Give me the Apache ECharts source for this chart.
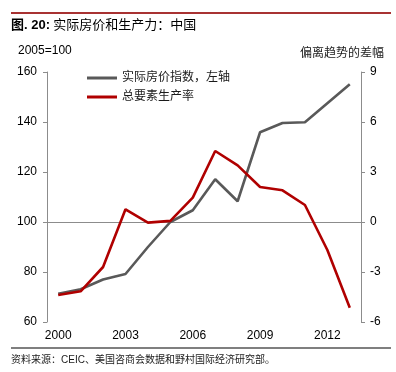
<!DOCTYPE html>
<html>
<head>
<meta charset="utf-8">
<script src="https://cdn.jsdelivr.net/npm/echarts@6/dist/echarts.min.js"></script>
<style>
html,body{margin:0;padding:0;background:#fff;}
#main{width:396px;height:372px;}
</style>
</head>
<body>
<div id="main"></div>
<script>
var years = ['2000','2001','2002','2003','2004','2005','2006','2007','2008','2009','2010','2011','2012','2013'];
var housePrice = [71.3, 73.1, 77.0, 79.2, 90.0, 100.0, 104.7, 117.1, 108.3, 135.9, 139.6, 139.9, 147.5, 155.1];
var tfp = [-4.38, -4.16, -2.7, 0.76, -0.04, 0.07, 1.46, 4.26, 3.4, 2.1, 1.9, 1.02, -1.68, -5.14];
var seriesNames = ['实际房价指数，左轴', '总要素生产率'];
var leftTicks = {min: 60, max: 160, interval: 20};
var rightTicks = {min: -6, max: 9, interval: 3};

var FONT = '"Liberation Sans", Arial, "Noto Sans CJK SC", sans-serif';
var chart = echarts.init(document.getElementById('main'), null, {renderer: 'canvas'});
var axisColor = '#8c8c8c';
var option = {
  animation: false,
  backgroundColor: '#fff',
  textStyle: {fontFamily: FONT},
  grid: {left: 47, right: 35, top: 72, bottom: 50, containLabel: false},
  legend: {
    orient: 'vertical',
    left: 82, top: 66,
    itemWidth: 30, itemHeight: 3, itemGap: 5,
    icon: 'rect',
    textStyle: {fontSize: 12, color: '#1a1a1a', fontFamily: FONT, lineHeight: 14},
    data: seriesNames
  },
  xAxis: {
    type: 'category',
    data: years,
    boundaryGap: true,
    axisLine: {lineStyle: {color: axisColor, width: 1}},
    axisTick: {interval: 2, length: 4, inside: false, lineStyle: {color: axisColor}},
    axisLabel: {interval: 2, margin: 8, fontSize: 12, color: '#000', fontFamily: FONT},
    splitLine: {show: false}
  },
  yAxis: [{
    type: 'value', position: 'left',
    min: leftTicks.min, max: leftTicks.max, interval: leftTicks.interval,
    axisLine: {show: true, lineStyle: {color: axisColor, width: 1}},
    axisTick: {show: true, length: 4, lineStyle: {color: axisColor}},
    axisLabel: {margin: 10, fontSize: 12, color: '#000', fontFamily: FONT},
    splitLine: {show: false}
  }, {
    type: 'value', position: 'right',
    min: rightTicks.min, max: rightTicks.max, interval: rightTicks.interval,
    axisLine: {show: true, lineStyle: {color: axisColor, width: 1}},
    axisTick: {show: true, length: 4, lineStyle: {color: axisColor}},
    axisLabel: {margin: 9, fontSize: 12, color: '#000', fontFamily: FONT},
    splitLine: {show: false}
  }],
  series: [{
    name: seriesNames[0], type: 'line', yAxisIndex: 0,
    data: housePrice, symbol: 'none', smooth: false,
    lineStyle: {color: '#595959', width: 2.6},
    itemStyle: {color: '#595959'}
  }, {
    name: seriesNames[1], type: 'line', yAxisIndex: 1,
    data: tfp, symbol: 'none', smooth: false,
    lineStyle: {color: '#b00000', width: 2.6},
    itemStyle: {color: '#b00000'}
  }],
  graphic: [
    {type: 'rect', shape: {x: 11, y: 12, width: 380, height: 2}, style: {fill: '#a83232'}},
    {type: 'text', left: 11, top: 19, style: {
      text: '{b|图. 20:} {n|实际房价和生产力：中国}',
      rich: {
        b: {fontSize: 13, fontWeight: 'bold', fill: '#000', fontFamily: FONT},
        n: {fontSize: 13, fill: '#000', fontFamily: FONT}
      }
    }},
    {type: 'text', left: 18, top: 45, style: {text: '2005=100', fontSize: 12, fill: '#000', fontFamily: FONT}},
    {type: 'text', right: 12, top: 48, style: {text: '偏离趋势的差幅', fontSize: 12, fill: '#1a1a1a', fontFamily: FONT}},
    {type: 'rect', shape: {x: 11, y: 347.5, width: 380, height: 1}, style: {fill: '#000'}},
    {type: 'text', left: 11, top: 355, style: {text: '资料来源：CEIC、美国咨商会数据和野村国际经济研究部。', fontSize: 10, fill: '#1a1a1a', fontFamily: FONT}}
  ]
};
chart.setOption(option);
</script>
</body>
</html>
